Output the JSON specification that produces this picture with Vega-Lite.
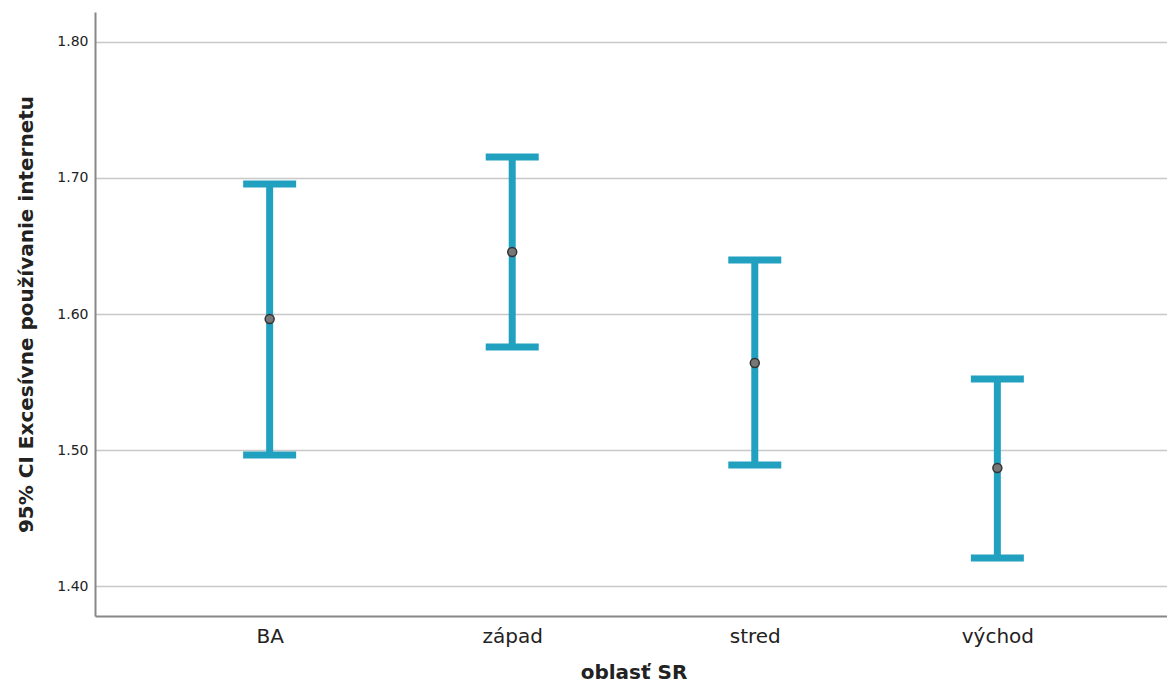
{
  "$schema": "https://vega.github.io/schema/vega-lite/v6.json",
  "autosize": {"type": "none"},
  "width": 1077,
  "height": 604,
  "padding": {"left": 95, "top": 12, "right": 0, "bottom": 77},
  "background": "white",
  "config": {"view": {"stroke": null}},
  "data": {"values": [
    {"oblast": "BA", "mean": 1.5963, "lower": 1.4963, "upper": 1.6956},
    {"oblast": "západ", "mean": 1.6456, "lower": 1.5757, "upper": 1.7154},
    {"oblast": "stred", "mean": 1.564, "lower": 1.489, "upper": 1.6397},
    {"oblast": "východ", "mean": 1.4868, "lower": 1.4206, "upper": 1.5522}
  ]},
  "encoding": {
    "x": {
      "field": "oblast", "type": "nominal", "sort": null,
      "scale": {"type": "point", "padding": 0.72},
      "axis": {
        "title": "oblasť SR", "titleFont": "DejaVu Sans", "titleFontSize": 20, "titleFontWeight": "bold",
        "titleColor": "#222", "titlePadding": 16,
        "labelFont": "DejaVu Sans", "labelFontSize": 20, "labelColor": "#222", "labelPadding": 10, "labelAngle": 0,
        "ticks": false, "domainColor": "#888", "domainWidth": 2, "grid": false
      }
    }
  },
  "layer": [
    {
      "mark": {"type": "rule", "color": "#22a0c0", "strokeWidth": 7},
      "encoding": {
        "y": {"field": "lower", "type": "quantitative",
          "scale": {"domain": [1.378, 1.822], "nice": false, "zero": false},
          "axis": {
            "title": "95% CI Excesívne používanie internetu", "titleFont": "DejaVu Sans", "titleFontSize": 20,
            "titleFontWeight": "bold", "titleColor": "#222", "titlePadding": 20,
            "values": [1.4, 1.5, 1.6, 1.7, 1.8], "format": ".2f",
            "labelFont": "DejaVu Sans", "labelFontSize": 14, "labelColor": "#222", "labelPadding": 7,
            "ticks": false, "domainColor": "#888", "domainWidth": 2,
            "grid": true, "gridColor": "#c8c8c8", "gridWidth": 1.5
          }},
        "y2": {"field": "upper"}
      }
    },
    {
      "mark": {"type": "tick", "color": "#22a0c0", "thickness": 7, "size": 53, "opacity": 1},
      "encoding": {"y": {"field": "lower", "type": "quantitative"}}
    },
    {
      "mark": {"type": "tick", "color": "#22a0c0", "thickness": 7, "size": 53, "opacity": 1},
      "encoding": {"y": {"field": "upper", "type": "quantitative"}}
    },
    {
      "mark": {"type": "point", "filled": true, "fill": "#777", "stroke": "#333", "strokeWidth": 1.5, "size": 80, "opacity": 1},
      "encoding": {"y": {"field": "mean", "type": "quantitative"}}
    }
  ]
}
